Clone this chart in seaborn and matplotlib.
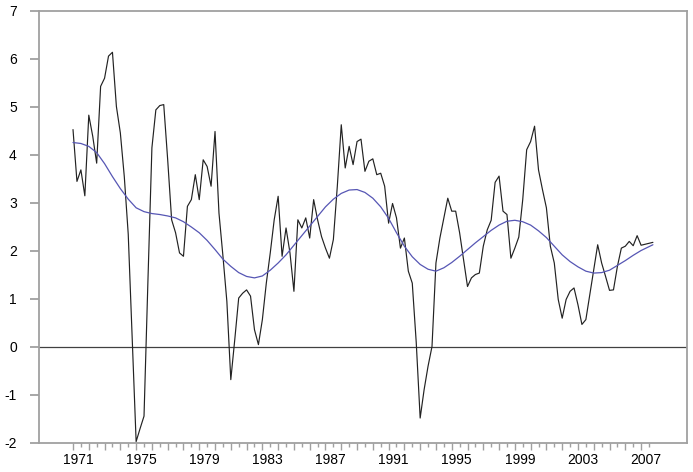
import numpy as np
import pandas as pd
import matplotlib
matplotlib.use("Agg")
import matplotlib.pyplot as plt
import matplotlib.transforms as mtransforms
import seaborn as sns

# Quarterly series, 1971Q1 .. 2007Q4
start_year = 1971
values = [
    4.53, 3.45, 3.69, 3.15, 4.83, 4.39, 3.83, 5.43, 5.60, 6.06,
    6.14, 5.01, 4.46, 3.55, 2.35, 0.20, -1.97, -1.70, -1.44, 1.40,
    4.15, 4.94, 5.03, 5.05, 3.90, 2.65, 2.38, 1.96, 1.89, 2.93,
    3.07, 3.59, 3.07, 3.90, 3.76, 3.35, 4.49, 2.79, 1.90, 0.95,
    -0.68, 0.15, 1.02, 1.12, 1.19, 1.06, 0.36, 0.05, 0.57, 1.33,
    1.96, 2.65, 3.14, 1.89, 2.48, 1.96, 1.16, 2.65, 2.48, 2.69,
    2.27, 3.07, 2.65, 2.30, 2.06, 1.85, 2.24, 3.35, 4.63, 3.73,
    4.18, 3.80, 4.28, 4.33, 3.66, 3.87, 3.92, 3.59, 3.62, 3.35,
    2.58, 2.99, 2.69, 2.06, 2.27, 1.58, 1.33, 0.10, -1.48, -0.89,
    -0.40, 0.01, 1.75, 2.27, 2.69, 3.10, 2.83, 2.83, 2.38, 1.82,
    1.26, 1.44, 1.51, 1.54, 2.10, 2.44, 2.64, 3.43, 3.56, 2.83,
    2.76, 1.85, 2.06, 2.29, 3.07, 4.11, 4.28, 4.60, 3.69, 3.28,
    2.90, 2.10, 1.75, 0.99, 0.60, 0.99, 1.16, 1.23, 0.88, 0.47,
    0.57, 1.09, 1.60, 2.13, 1.75, 1.47, 1.18, 1.19, 1.68, 2.06,
    2.10, 2.20, 2.11, 2.32, 2.12, 2.14, 2.16, 2.18,
]

# Smooth trend (quarter index, value)
trend_quarter = [0, 2, 4, 6, 8, 10, 12, 14, 16, 18, 20, 22, 24, 26, 28, 30,
                 32, 34, 36, 38, 40, 42, 44, 46, 48, 50, 52, 54, 56, 58, 60,
                 62, 64, 66, 68, 70, 72, 74, 76, 78, 80, 82, 84, 86, 88, 90,
                 92, 94, 96, 98, 100, 102, 104, 106, 108, 110, 112, 114, 116,
                 118, 120, 122, 124, 126, 128, 130, 132, 134, 136, 138, 140,
                 142, 144, 146, 147]
trend_values = [4.26, 4.24, 4.18, 4.05, 3.82, 3.55, 3.30, 3.08, 2.90, 2.82,
                2.78, 2.76, 2.73, 2.69, 2.61, 2.50, 2.38, 2.22, 2.03, 1.83,
                1.68, 1.55, 1.47, 1.44, 1.48, 1.60, 1.75, 1.92, 2.12, 2.32,
                2.52, 2.72, 2.92, 3.08, 3.20, 3.27, 3.28, 3.22, 3.10, 2.92,
                2.68, 2.38, 2.10, 1.88, 1.72, 1.62, 1.58, 1.65, 1.76, 1.89,
                2.03, 2.17, 2.30, 2.43, 2.54, 2.62, 2.64, 2.61, 2.54, 2.42,
                2.28, 2.10, 1.92, 1.78, 1.67, 1.58, 1.54, 1.55, 1.60, 1.70,
                1.80, 1.91, 2.01, 2.09, 2.13]

label_years = [1971, 1975, 1979, 1983, 1987, 1991, 1995, 1999, 2003, 2007]
y_ticks = [-2, -1, 0, 1, 2, 3, 4, 5, 6, 7]

sns.set_theme(style="white")
plt.rcParams['font.family'] = ['Liberation Sans', 'DejaVu Sans']

df = pd.DataFrame({"t": start_year + np.arange(len(values)) / 4.0, "v": values})
dft = pd.DataFrame({"t": start_year + np.array(trend_quarter) / 4.0, "v": trend_values})

fig = plt.figure(figsize=(6.93, 4.72), dpi=100)
ax = fig.add_axes([39 / 693, 29 / 472, 648 / 693, 432 / 472])

ax.axhline(0, color='#404040', lw=0.9, zorder=1)
sns.lineplot(data=df, x="t", y="v", ax=ax, color='#222222', lw=0.85, zorder=3)
sns.lineplot(data=dft, x="t", y="v", ax=ax, color='#5656b4', lw=0.9, zorder=4)

ax.set_xlim(1968.845, 2009.91)
ax.set_ylim(-2, 7)
ax.set_xlabel("")
ax.set_ylabel("")

for s in ax.spines.values():
    s.set_color('#a0a0a0')
    s.set_linewidth(1.3)

ax.set_yticks(y_ticks)
ax.set_yticklabels([str(v) for v in y_ticks])
ax.tick_params(axis='y', direction='out', length=6.5, width=1.3, color='#a0a0a0',
               labelsize=10, pad=9.5, labelcolor='black', left=True)

years = list(range(1971, 2008))
ax.set_xticks(years)
ax.set_xticklabels([str(y) if y in label_years else "" for y in years])
ax.set_xticks(np.arange(1971.5, 2008.0, 1.0), minor=True)
ax.tick_params(axis='x', which='major', direction='out', length=5, width=1.0,
               color='#a0a0a0', labelsize=10, pad=2.5, labelcolor='black', bottom=True)
ax.tick_params(axis='x', which='minor', direction='out', length=3, width=1.0,
               color='#a0a0a0', bottom=True)
offset = mtransforms.ScaledTranslation(5 / 100, 0, fig.dpi_scale_trans)
for lab in ax.get_xticklabels():
    lab.set_transform(lab.get_transform() + offset)

ax.grid(False)
fig.savefig("out.png", dpi=100)
